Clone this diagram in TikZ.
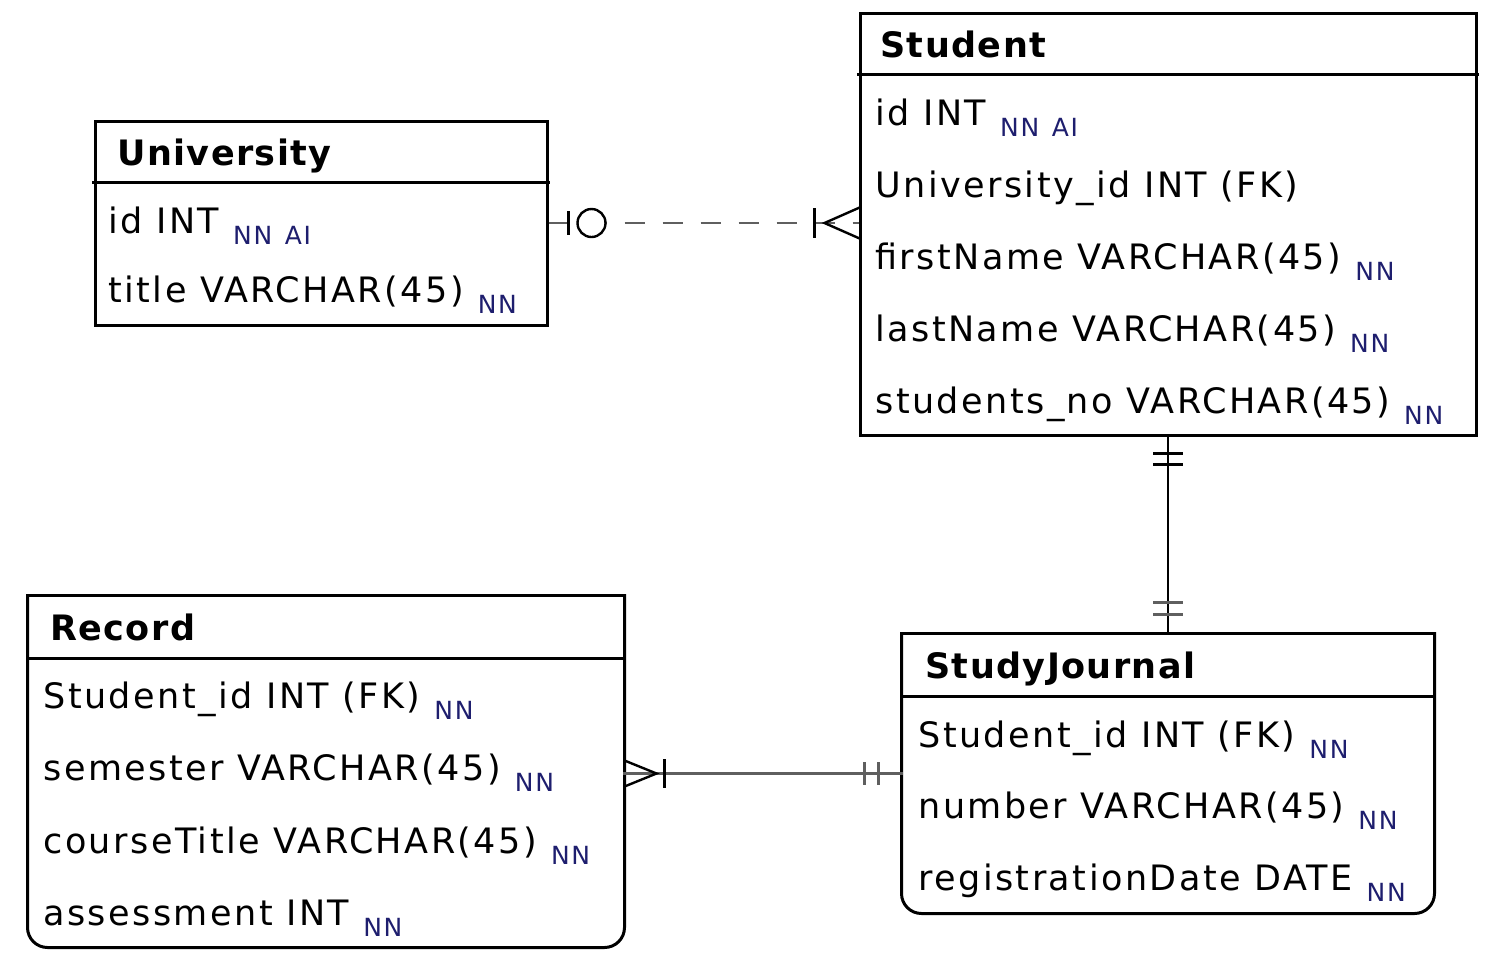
\documentclass[tikz,border=0pt]{standalone}
\usepackage{fontspec}
\setmainfont{DejaVu Sans}[LetterSpace=4]
\newfontfamily\fieldfont{DejaVu Sans}[LetterSpace=7]
\usetikzlibrary{positioning,fit}

\definecolor{flagblue}{RGB}{30,30,110}
\definecolor{linkgray}{RGB}{95,95,95}

\tikzset{
  % a table frame, fitted to its two corners
  entity/.style={
    shape=rectangle, inner sep=0pt,
    line width=1.5pt, draw=black
  },
  roundentity/.style={entity, draw=none},
  heading/.style={
    anchor=base west, inner sep=0pt,
    font=\fontsize{17.5}{20}\selectfont\bfseries
  },
  column/.style={
    anchor=base west, inner sep=0pt,
    font=\fieldfont\fontsize{17.5}{20}\selectfont
  },
  % the relationship lines
  link/.style={line width=1.3pt, draw=linkgray},
  tickmark/.style={line width=1.2pt, draw=black}
}
\newcommand{\flag}[1]{\hspace{0.4em}\raisebox{-0.6ex}{\color{flagblue}\fontsize{12.5}{14}\selectfont #1}}

\begin{document}
\begin{tikzpicture}[x=0.5pt,y=-0.5pt,line cap=rect]
  \useasboundingbox (0,0) rectangle (1500,960);

  % tables
  \node[entity, fit={(95,121) (547,325)}] (university) {};
  \node[entity, fit={(860,13) (1476,435)}] (student) {};
  \node[roundentity, fit={(29,597) (623,946)}] (record) {};
  \node[roundentity, fit={(903,635) (1433,912)}] (journal) {};

  \draw[line width=1.5pt, rounded corners=10pt] (record.north west) -- (record.south west)
    -- (record.south east) -- (record.north east);
  \draw[line width=1.5pt] (record.north west) -- (record.north east);
  \draw[line width=1.5pt, rounded corners=10pt] (journal.north west) -- (journal.south west)
    -- (journal.south east) -- (journal.north east);
  \draw[line width=1.5pt] (journal.north west) -- (journal.north east);

  % header rules
  \draw[line width=1.5pt] ([yshift=-31.5pt]university.north west) -- ([yshift=-31.5pt]university.north east);
  \draw[line width=1.5pt] ([yshift=-31.5pt]student.north west) -- ([yshift=-31.5pt]student.north east);
  \draw[line width=1.5pt] ([yshift=-31.5pt]record.north west) -- ([yshift=-31.5pt]record.north east);
  \draw[line width=1.5pt] ([yshift=-31.5pt]journal.north west) -- ([yshift=-31.5pt]journal.north east);

  % University
  \node[heading] (unititle) at (117,165) {University};
  \node[column] (uniid) at (108,233) {id INT\flag{NN\enspace AI}};
  \node[column] (unititlecol) at (108,302) {title VARCHAR(45)\flag{NN}};

  % Student
  \node[heading] (stutitle) at (880,57) {Student};
  \node[column] (stuid) at (875,125) {id INT\flag{NN\enspace AI}};
  \node[column] (stuuni) at (875,197) {University\_id INT (FK)};
  \node[column] (stufirst) at (875,269) {firstName VARCHAR(45)\flag{NN}};
  \node[column] (stulast) at (875,341) {lastName VARCHAR(45)\flag{NN}};
  \node[column] (stuno) at (875,413) {students\_no VARCHAR(45)\flag{NN}};

  % Record
  \node[heading] (rectitle) at (50,640) {Record};
  \node[column] (recstudent) at (43,708) {Student\_id INT (FK)\flag{NN}};
  \node[column] (recsemester) at (43,780) {semester VARCHAR(45)\flag{NN}};
  \node[column] (reccourse) at (43,853) {courseTitle VARCHAR(45)\flag{NN}};
  \node[column] (recassess) at (43,925) {assessment INT\flag{NN}};

  % StudyJournal
  \node[heading] (jourtitle) at (925,678) {StudyJournal};
  \node[column] (jourstudent) at (918,747) {Student\_id INT (FK)\flag{NN}};
  \node[column] (journumber) at (918,818) {number VARCHAR(45)\flag{NN}};
  \node[column] (jourdate) at (918,890) {registrationDate DATE\flag{NN}};

  % University -- Student (zero or one to one or many)
  \draw[link, dash pattern=on 10pt off 9pt, line cap=butt] (university.east) -- (student.west |- university.east);
  \begin{scope}[shift={(university.east)}]
    \draw[tickmark] (20,-11) -- (20,11);
    \draw[tickmark, fill=white] (43,0) circle (7pt);
  \end{scope}
  \begin{scope}[shift={(student.west |- university.east)}]
    \draw[tickmark] (-44,-14) -- (-44,14);
    \draw[tickmark] (0,-15) -- (-34,0) -- (0,15);
  \end{scope}

  % Student -- StudyJournal (one to one)
  \draw[tickmark] (student.south) -- (journal.north);
  \begin{scope}[shift={(student.south)}]
    \draw[tickmark] (-14,17) -- (14,17);
    \draw[tickmark] (-14,28) -- (14,28);
  \end{scope}
  \begin{scope}[shift={(journal.north)}]
    \draw[link] (-14,-31) -- (14,-31);
    \draw[link] (-14,-19) -- (14,-19);
  \end{scope}

  % StudyJournal -- Record (one to one or many)
  \draw[link] (record.east |- journal.west) -- (journal.west);
  \begin{scope}[shift={(record.east |- journal.west)}]
    \draw[tickmark] (0,-13) -- (32,0) -- (0,13);
    \draw[tickmark] (40,-13) -- (40,13);
  \end{scope}
  \begin{scope}[shift={(journal.west)}]
    \draw[link] (-37,-10) -- (-37,10);
    \draw[link] (-23,-10) -- (-23,10);
  \end{scope}
\end{tikzpicture}
\end{document}
